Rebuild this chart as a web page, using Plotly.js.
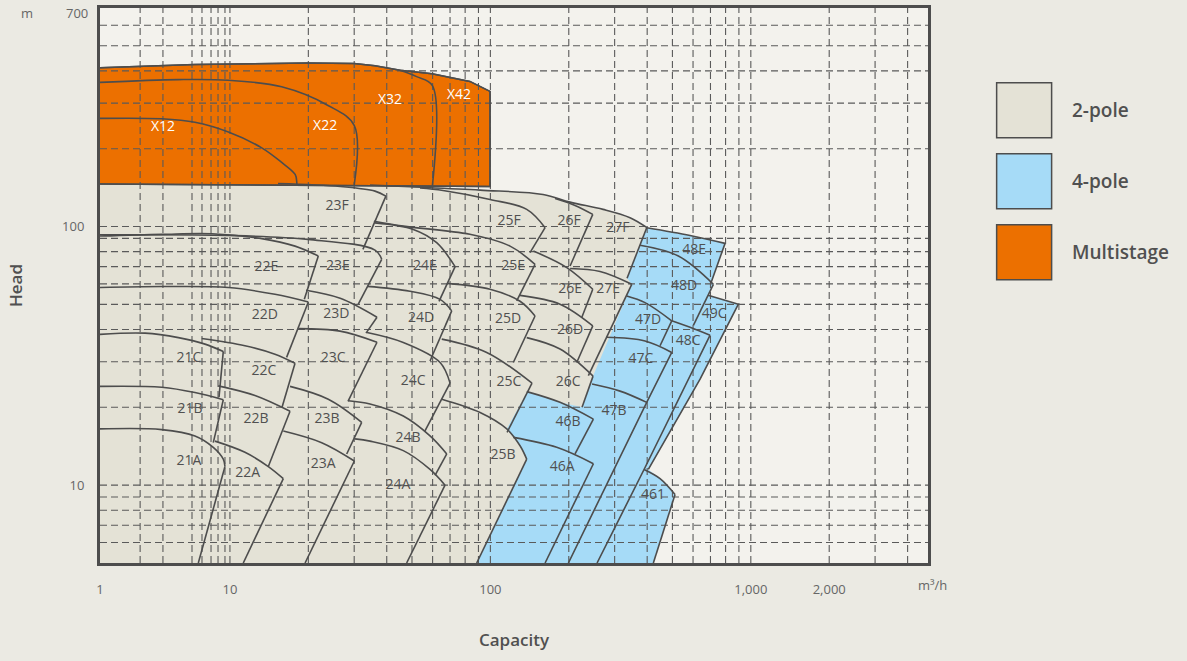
<!DOCTYPE html>
<html>
<head>
<meta charset="utf-8">
<script src="https://cdn.plot.ly/plotly-3.0.1.min.js"></script>
<style>
html,body{margin:0;padding:0;background:#EBEAE3;}
#chart{width:1187px;height:661px;}
</style>
</head>
<body>
<div id="chart"></div>
<script>
// ---------- axes ----------
const qMin = 3.17, qMax = 4790, hMin = 5, hMax = 700;
const xGrid = [4.52,5.53,7.15,7.81,8.46,9.0,9.57,10,20,30,40,50,60,70,80,90,100,200,300,400,500,600,700,800,900,1000,2000,3000,4000];
const xTickVals = [qMin, 10, 100, 1000, 2000];
const xTickText = ['1', '10', '100', '1,000', '2,000'];
const yGrid = [6,7,8,9,10,20,30,40,50,60,70,80,90,100,200,300,400,500,600];
const yTickVals = [10, 100];
const yTickText = ['10', '100'];
const yTopLabel = '700';   // label at the top edge (H = hMax)

// ---------- family envelopes (Q m3/h, H m) ----------
const msEnvQ = [3.17, 7.34, 19.95, 29.96, 36.06, 45.0, 59.7, 83.4, 99.7, 99.7, 3.17];
const msEnvH = [411, 423, 429, 427, 419, 402, 390, 364, 333, 143, 146];

const twoPoleEnvQ = [3.17, 34.5, 49.1, 91.3, 159.3, 202.3, 270.8, 343.8, 399.5, 344, 375.6, 3.17];
const twoPoleEnvH = [145.5, 144.8, 142.5, 138.3, 133.1, 124.3, 116.5, 108.2, 99.0, 11.5, 5.0, 5.0];

const fourPoleEnvQ = [88.6, 137.9, 130, 115.6, 138.3, 185.1, 224.9, 247.9, 349, 334.8, 398.4, 584.5, 796.4, 704, 718.3, 685.3, 895.8, 638.5, 404.1, 448.2, 511.8, 422.4];
const fourPoleEnvH = [5.0, 12.6, 14.2, 16.5, 22.9, 20.9, 20.0, 26.4, 59.8, 63.1, 99.0, 92.4, 86.1, 60.8, 59.8, 54.2, 50.1, 25.7, 11.5, 10.6, 9.2, 5.0];

// ---------- multistage internal curves ----------
const msCurves = [
  ['X12', [3.17, 5.47, 7.34, 9.86, 13.2, 15.8, 17.8, 18.05, 18.05], [262, 261, 253, 232, 202, 177, 159, 149, 145]],
  ['X22', [3.17, 6.34, 9.83, 15.8, 23.8, 30.0, 30.0], [361, 370, 368, 347, 294, 246, 145]],
  ['X32', [45.0, 52.1, 59.9, 59.9], [402, 380, 351, 144]]
];

// ---------- 2-pole curves ----------
const twoPoleTopQ = [34.5, 49.1, 91.3, 159.3, 202.3, 270.8, 343.8, 399.5];
const twoPoleTopH = [144.8, 142.5, 138.3, 133.1, 124.3, 116.5, 108.2, 99.0];

const twoPoleArcs = [
  ['23F', [15.3, 26.5, 36.06, 39.7], [146.8, 142.9, 137.1, 131.1]],
  ['25F', [53.7, 65.8, 99.7, 137.9, 162.2], [141, 137.9, 127.3, 116.5, 99.0]],
  ['26F', [177.2, 211.4, 247.3], [128.4, 120.7, 111.4]],
  ['22E', [3.17, 5.47, 8.51, 13.24, 17.78, 21.84], [91.9, 93.3, 93.8, 89.8, 84.0, 76.9]],
  ['23E', [3.17, 9.83, 19.95, 36.06, 38.26], [92.9, 92.4, 89.2, 81.1, 74.7]],
  ['24E', [36.06, 50.6, 62.2, 73.2], [103.3, 97.5, 86.6, 70.0]],
  ['25E', [35.7, 46.3, 83.4, 119, 148.4], [104.9, 100.4, 93.3, 84.0, 71.4]],
  ['26E', [146.2, 196.5, 247.3], [80.4, 69.4, 57.2]],
  ['27E', [202.3, 263.7, 349], [68.8, 67.0, 59.8]],
  ['22D', [3.17, 5.47, 9.86, 14.89, 20.0], [58.1, 58.6, 58.1, 54.7, 51.1]],
  ['23D', [19.6, 26.5, 36.7], [56.7, 52.8, 44.6]],
  ['24D', [33.6, 49.1, 64.1, 71.05], [58.7, 56.2, 52.3, 47.2]],
  ['25D', [68.2, 99.7, 130, 148.4], [60.3, 57.2, 51.4, 45.1]],
  ['26D', [130, 185.1, 247.3], [54.2, 50.1, 41.3]],
  ['21C', [3.17, 4.72, 6.34, 8.02, 9.43], [38.3, 38.7, 37.2, 35.1, 32.9]],
  ['22C', [7.79, 11.42, 14.89, 17.78], [36.9, 34.6, 32.1, 29.6]],
  ['23C', [18.3, 26.46, 36.7], [40.3, 39.4, 35.7]],
  ['24C', [33.6, 46.3, 64.1, 70.0], [38.9, 35.6, 29.8, 24.8]],
  ['25C', [65.05, 96.8, 144.5], [36.7, 32.6, 24.8]],
  ['26C', [137.9, 185.1, 247.9], [37.2, 33.6, 26.4]],
  ['21B', [3.17, 5.47, 7.34, 9.43], [24.1, 23.9, 22.8, 21.4]],
  ['22B', [9.02, 12.48, 17.01], [24.2, 22.2, 19.3]],
  ['23B', [17.01, 23.86, 32.06], [24.1, 21.5, 17.5]],
  ['24B', [28.48, 34.5, 46.3, 58.65, 68.0], [21.2, 20.6, 18.5, 15.5, 13.2]],
  ['25B', [65.05, 91.3, 115.6, 130, 137.9], [21.5, 19.1, 16.5, 14.2, 12.6]],
  ['21A', [3.17, 5.47, 7.34, 8.63, 9.43, 9.57], [16.5, 16.4, 15.5, 14.0, 12.6, 11.8]],
  ['22A', [8.76, 11.42, 14.04, 16.03], [14.8, 13.4, 11.8, 10.6]],
  ['23A', [16.03, 22.51, 30.04], [16.2, 14.6, 12.4]],
  ['24A', [30.22, 34.5, 46.3, 58.65, 66.97], [15.1, 14.8, 13.6, 11.5, 10.0]]
];

const twoPoleEdges = [
  ['23F', [39.7, 32.4], [131.1, 81.6]],
  ['25F', [162.2, 142.0], [99.0, 79.3]],
  ['26F', [247.3, 202.3], [111.4, 70.4]],
  ['27F', [398.4, 334.8], [99.0, 63.1]],
  ['22E', [21.84, 19.3], [76.9, 52.3]],
  ['23E', [38.26, 31.1], [74.7, 50.1]],
  ['24E', [73.2, 63.5], [70.0, 51.4]],
  ['25E', [148.4, 126.2], [71.4, 51.6]],
  ['26E', [247.3, 224.3], [57.2, 44.5]],
  ['27E', [349, 237.8], [59.8, 26.5]],
  ['22D', [20.0, 16.5], [51.1, 31.2]],
  ['23D', [36.7, 33.3], [44.6, 38.7]],
  ['24D', [71.05, 58.65], [47.2, 30.2]],
  ['25D', [148.4, 122.5], [45.1, 29.8]],
  ['26D', [247.3, 214.6], [41.3, 29.8]],
  ['21C', [9.43, 9.08], [32.9, 21.9]],
  ['22C', [17.78, 15.85], [29.6, 20.0]],
  ['23C', [36.7, 28.4], [35.7, 21.1]],
  ['24C', [70.0, 56.1], [24.8, 16.2]],
  ['25C', [144.5, 115.9], [24.8, 16.0]],
  ['26C', [247.9, 224.9], [26.4, 20.0]],
  ['21B', [9.43, 8.63], [21.4, 14.6]],
  ['22B', [17.01, 14.04], [19.3, 11.8]],
  ['23B', [32.06, 28.07], [17.5, 13.2]],
  ['24B', [68.0, 61.3], [13.2, 10.9]],
  ['25B', [137.9, 88.6], [12.6, 5.0]],
  ['21A', [9.57, 7.56], [11.8, 5.0]],
  ['22A', [16.03, 11.25], [10.6, 5.0]],
  ['23A', [30.04, 19.43], [12.4, 5.0]],
  ['24A', [66.97, 47.7], [10.0, 5.0]]
];

// ---------- 4-pole curves ----------
const fourPoleArcs = [
  ['46B', [137.9, 185.1, 248.6], [23.0, 20.9, 18.0]],
  ['46A', [122.5, 179.8, 248.6], [15.3, 14.0, 12.1]],
  ['47B', [245.7, 314.7, 398.4], [24.6, 23.1, 20.9]],
  ['47C', [278, 392.5, 497], [37.3, 36.1, 32.6]],
  ['47D', [333.8, 392.5, 497], [53.9, 50.8, 43.2]],
  ['48E', [398.4, 584.5, 796.4], [99.0, 92.4, 86.1]],
  ['48D', [375.6, 527, 718.3], [84.6, 76.9, 59.8]],
  ['48C', [497, 584.5, 697.6], [43.2, 40.8, 38.0]],
  ['49C', [685.3, 895.8], [54.2, 50.1]],
  ['461', [389.1, 448.2, 511.8], [11.5, 10.6, 9.2]]
];

const fourPoleEdges = [
  ['46B', [248.6, 211.4], [18.0, 13.2]],
  ['46A', [248.6, 162.2], [12.1, 5.0]],
  ['47C', [497, 398.4, 199.3], [32.6, 20.9, 5.0]],
  ['47D', [497, 448.2], [43.2, 34.6]],
  ['48E', [796.4, 704], [86.1, 60.8]],
  ['48D', [718.3, 601.8], [59.8, 41.5]],
  ['48C', [697.6, 392.5, 256.8], [38.0, 11.7, 5.0]],
  ['49C', [895.8, 638.5, 404.1], [50.1, 25.7, 11.5]],
  ['461', [511.8, 422.4], [9.2, 5.0]]
];

// ---------- labels ----------
const msLabels = ['X12', 'X22', 'X32', 'X42'];
const msLabelQ = [5.53, 23.2, 41.2, 75.8];
const msLabelH = [241, 243, 307, 321];

const twoPoleLabels = ['23F','25F','26F','27F','22E','23E','24E','25E','26E','27E','22D','23D','24D','25D','26D','21C','22C','23C','24C','25C','26C','21B','22B','23B','24B','25B','21A','22A','23A','24A'];
const twoPoleLabelQ = [25.8,117.9,200.4,309,13.8,26.0,56.1,122.2,202.3,283,13.6,25.6,54.2,116.9,202.3,6.96,13.5,24.9,50.5,117.9,198.7,7.02,12.6,23.6,48.3,111.8,6.96,11.7,22.8,44.2];
const twoPoleLabelH = [119.6,104.7,104.7,98.4,69.6,70.2,70.2,70.2,57.2,57.2,45.4,45.8,44.2,43.8,39.7,31.0,27.4,31.0,25.2,25.0,25.0,19.7,18.0,18.0,15.1,13.0,12.3,11.1,12.0,10.0];

const fourPoleLabels = ['46A','46B','47B','47C','47D','48C','48D','48E','49C','461'];
const fourPoleLabelQ = [188.5,198.7,298.5,378.8,403,574.3,554.3,605.5,722.6,421.3];
const fourPoleLabelH = [11.75,17.4,19.2,30.7,43.4,36.0,58.7,80.9,45.8,9.08];

const legendNames = ['2-pole', '4-pole', 'Multistage'];

// ---------- styles ----------
const C_BEIGE = '#E4E2D6', C_BLUE = '#A6DBF7', C_ORANGE = '#EC7000';
const C_LINE = '#4D4D4D', C_GRID = '#5A5A5A', C_TEXT = '#505050';
const FONT = 'Open Sans, Noto Sans, sans-serif';

const traces = [];
function fillTrace(q, h, color, withLine) {
  return {type: 'scatter', mode: 'lines', x: q, y: h, fill: 'toself', fillcolor: color,
    line: {color: C_LINE, width: withLine ? 1.5 : 0}, hoverinfo: 'skip', showlegend: false};
}
function lineTrace(q, h, shape) {
  return {type: 'scatter', mode: 'lines', x: q, y: h,
    line: {color: C_LINE, width: 1.6, shape: shape, smoothing: 1}, hoverinfo: 'skip', showlegend: false};
}
function textTrace(names, q, h, color, size) {
  return {type: 'scatter', mode: 'text', x: q, y: h, text: names, textposition: 'middle center',
    textfont: {family: FONT, size: size, color: color}, hoverinfo: 'skip', showlegend: false};
}

traces.push(fillTrace(twoPoleEnvQ, twoPoleEnvH, C_BEIGE, false));
traces.push(fillTrace(fourPoleEnvQ, fourPoleEnvH, C_BLUE, false));
traces.push(fillTrace(msEnvQ, msEnvH, C_ORANGE, true));

// grid lines (drawn above fills like the reference)
const gx = [], gy = [];
xGrid.forEach(v => { gx.push(v, v, null); gy.push(hMin, hMax, null); });
const hx = [], hy = [];
yGrid.forEach(v => { hx.push(qMin, qMax, null); hy.push(v, v, null); });
traces.push({type: 'scatter', mode: 'lines', x: gx, y: gy, line: {color: C_GRID, width: 1.1, dash: '7px,4px'}, hoverinfo: 'skip', showlegend: false});
traces.push({type: 'scatter', mode: 'lines', x: hx, y: hy, line: {color: C_GRID, width: 1.1, dash: '7px,4px'}, hoverinfo: 'skip', showlegend: false});

traces.push(lineTrace(twoPoleTopQ, twoPoleTopH, 'spline'));
twoPoleArcs.forEach(c => traces.push(lineTrace(c[1], c[2], 'spline')));
twoPoleEdges.forEach(c => traces.push(lineTrace(c[1], c[2], 'linear')));
fourPoleArcs.forEach(c => traces.push(lineTrace(c[1], c[2], 'spline')));
fourPoleEdges.forEach(c => traces.push(lineTrace(c[1], c[2], 'linear')));
msCurves.forEach(c => traces.push(lineTrace(c[1], c[2], 'spline')));
traces.push(fillTrace(msEnvQ, msEnvH, 'rgba(0,0,0,0)', true));

traces.push(textTrace(twoPoleLabels, twoPoleLabelQ, twoPoleLabelH, C_TEXT, 14));
traces.push(textTrace(fourPoleLabels, fourPoleLabelQ, fourPoleLabelH, C_TEXT, 14));
traces.push(textTrace(msLabels, msLabelQ, msLabelH, '#FFFFFF', 14));

// legend boxes (paper coords)
const legendColors = [C_BEIGE, C_BLUE, C_ORANGE];
const legendTop = [0.8655, 0.7375, 0.6096];
const shapes = legendColors.map((c, i) => ({type: 'rect', xref: 'paper', yref: 'paper',
  x0: 1.0829, x1: 1.1493, y0: legendTop[i] - 0.0991, y1: legendTop[i],
  fillcolor: c, line: {color: C_LINE, width: 1.5}}));
const annotations = legendNames.map((n, i) => ({xref: 'paper', yref: 'paper', x: 1.1711, y: legendTop[i] - 0.0496,
  xanchor: 'left', yanchor: 'middle', text: n, showarrow: false,
  font: {family: FONT, size: 19, color: C_TEXT, weight: 600}}));
annotations.push({xref: 'paper', yref: 'paper', x: -0.088, y: 0.9915, xanchor: 'center', yanchor: 'middle',
  text: 'm', showarrow: false, font: {family: FONT, size: 13, color: '#666'}});
annotations.push({xref: 'paper', yref: 'y', x: -0.0121, y: Math.log10(hMax), yshift: -5, xanchor: 'right', yanchor: 'middle',
  text: yTopLabel, showarrow: false, font: {family: FONT, size: 13, color: '#666'}});
annotations.push({xref: 'paper', yref: 'paper', x: 1.0057, y: -0.039, xanchor: 'center', yanchor: 'middle',
  text: 'm³/h', showarrow: false, font: {family: FONT, size: 13, color: '#666'}});

const layout = {
  width: 1187, height: 661,
  margin: {l: 100, r: 259, t: 8, b: 98},
  paper_bgcolor: '#EBEAE3', plot_bgcolor: '#F3F2ED',
  showlegend: false,
  font: {family: FONT, color: '#666'},
  xaxis: {type: 'log', range: [Math.log10(qMin), Math.log10(qMax)], showgrid: false, zeroline: false,
    tickmode: 'array', tickvals: xTickVals, ticktext: xTickText, ticks: '', ticklabelstandoff: 12,
    tickfont: {size: 13, color: '#666'},
    showline: true, linecolor: C_LINE, linewidth: 3, mirror: true,
    title: {text: 'Capacity', standoff: 38, font: {size: 17, color: C_TEXT, weight: 600}}},
  yaxis: {type: 'log', range: [Math.log10(hMin), Math.log10(hMax)], showgrid: false, zeroline: false,
    tickmode: 'array', tickvals: yTickVals, ticktext: yTickText, ticks: '', ticklabelstandoff: 10,
    tickfont: {size: 13, color: '#666'},
    showline: true, linecolor: C_LINE, linewidth: 3, mirror: true,
    title: {text: 'Head', standoff: 36, font: {size: 17, color: C_TEXT, weight: 600}}},
  shapes: shapes,
  annotations: annotations
};

Plotly.newPlot('chart', traces, layout, {displayModeBar: false, staticPlot: true});
</script>
</body>
</html>
